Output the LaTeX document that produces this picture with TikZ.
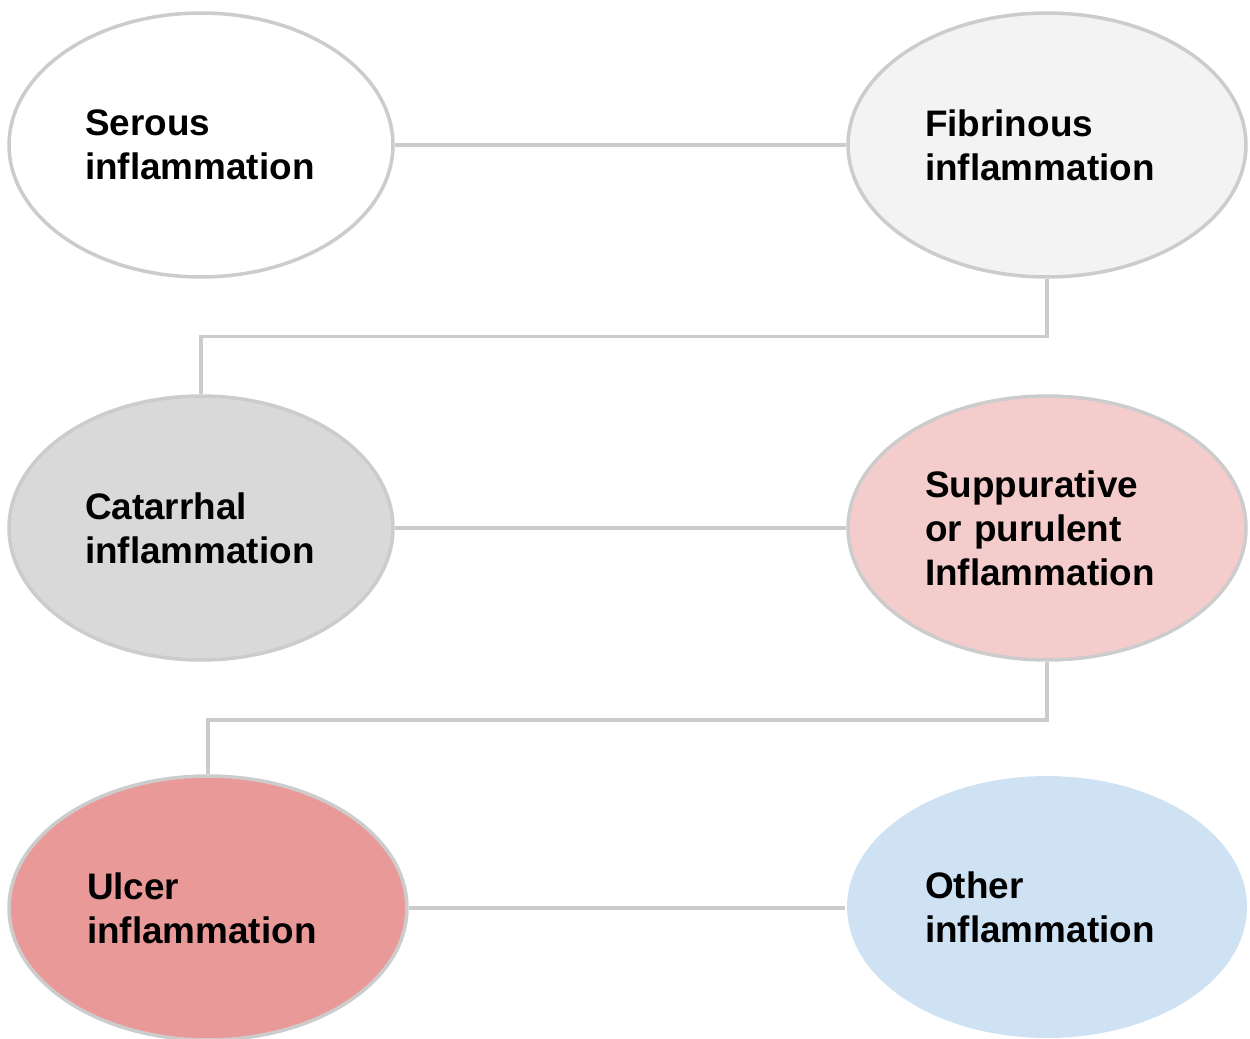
\documentclass[tikz,border=0pt]{standalone}
\usepackage{fontspec}
\setmainfont{Liberation Sans}
\usepackage{tikz}
\usetikzlibrary{positioning,calc,shapes.geometric}

\begin{document}
\begin{tikzpicture}[
    x=0.02cm, y=-0.02cm,
    font=\fontsize{21}{25}\selectfont\bfseries,
    bubble/.style={ellipse, draw=edgegray, line width=2pt, align=left,
                   inner sep=0pt},
    leftbub/.style={bubble, text width=4.64cm,
                    minimum width=7.68cm, minimum height=5.28cm},
    rightbub/.style={bubble, text width=4.88cm,
                     minimum width=7.96cm, minimum height=5.28cm},
    link/.style={draw=edgegray, line width=2pt},
  ]
  \definecolor{edgegray}{HTML}{CCCCCC}
  \definecolor{fibfill}{HTML}{F3F3F3}
  \definecolor{catfill}{HTML}{D9D9D9}
  \definecolor{supfill}{HTML}{F4CCCC}
  \definecolor{ulcfill}{HTML}{EA9999}
  \definecolor{othfill}{HTML}{CFE2F3}

  \useasboundingbox (0,0) rectangle (1250,1038);

  % ========================= FILA 1 =========================
  \node[leftbub, fill=white] (serous) at (201,145) {%
    Serous\\inflammation};
  \node[rightbub, fill=fibfill] (fibrin) at (1047,145) {%
    Fibrinous\\inflammation};

  % ========================= FILA 2 =========================
  \node[leftbub, fill=catfill] (catarr) at (201,528) {%
    Catarrhal\\inflammation};
  \node[rightbub, fill=supfill] (suppur) at (1047,528) {%
    Suppurative\\or purulent\\Inflammation};

  % ========================= FILA 3 =========================
  \node[rightbub, fill=ulcfill, text width=4.84cm] (ulcer) at (208,908) {%
    Ulcer\\inflammation};
  \node[rightbub, draw=none, fill=othfill, minimum width=8cm,
        minimum height=5.24cm] (other) at (1047,907) {%
    Other\\inflammation};

  % ======================== CONECTORES ======================
  \draw[link] (serous.east) -- (fibrin.west);
  \draw[link] (fibrin.south) -- ++(0,58) -| (catarr.north);
  \draw[link] (catarr.east) -- (suppur.west);
  \draw[link] (suppur.south) -- ++(0,58) -| (ulcer.north);
  \draw[link] (ulcer.east) -- (other.west |- ulcer.east);
\end{tikzpicture}
\end{document}
